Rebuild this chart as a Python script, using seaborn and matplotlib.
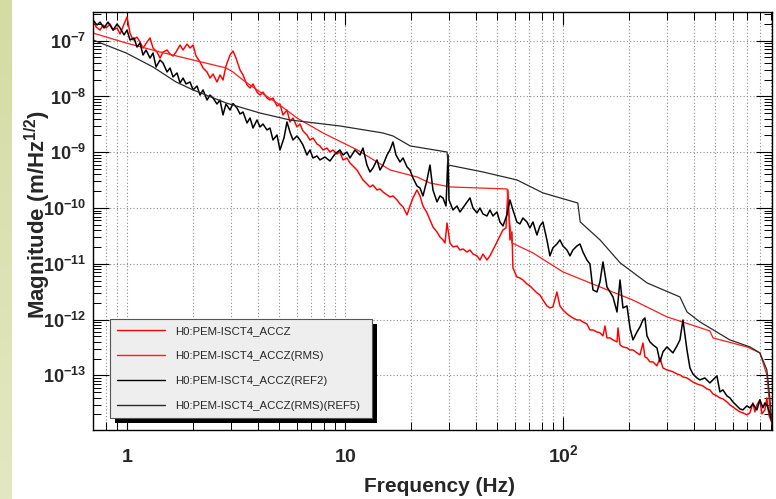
import numpy as np
import pandas as pd
import matplotlib
matplotlib.use("Agg")
import matplotlib.pyplot as plt
import seaborn as sns
from matplotlib.ticker import LogLocator, FuncFormatter, NullFormatter
from matplotlib.patches import Rectangle
from matplotlib.lines import Line2D
from matplotlib.transforms import IdentityTransform

# ---------------- data (frequency in Hz, magnitude in m/Hz^1/2) ----------------
series_names = ["H0:PEM-ISCT4_ACCZ", "H0:PEM-ISCT4_ACCZ(RMS)",
                "H0:PEM-ISCT4_ACCZ(REF2)", "H0:PEM-ISCT4_ACCZ(RMS)(REF5)"]
series_colors = ["#ff0000", "#ff1a1a", "#000000", "#2a2a2a"]

accz = [
    (0.698, 2.35e-7), (0.721, 1.76e-7), (0.752, 1.55e-7), (0.776, 1.91e-7), (0.801, 1.69e-7),
    (0.836, 1.99e-7), (0.863, 1.55e-7), (0.900, 1.69e-7), (0.929, 1.32e-7), (0.969, 1.99e-7),
    (1.000, 2.66e-7), (1.032, 1.37e-7), (1.065, 1.03e-7), (1.111, 1.16e-7), (1.147, 9.47e-8),
    (1.184, 7.39e-8), (1.235, 9.47e-8), (1.275, 1.12e-7), (1.316, 7.39e-8), (1.373, 6.27e-8),
    (1.417, 4.89e-8), (1.463, 6.27e-8), (1.526, 6.81e-8), (1.575, 5.77e-8), (1.626, 5.31e-8),
    (1.678, 6.27e-8), (1.751, 8.37e-8), (1.807, 6.81e-8), (1.885, 8.71e-8), (1.946, 7.39e-8),
    (2.009, 8.37e-8), (2.073, 5.31e-8), (2.162, 4.15e-8), (2.232, 3.24e-8), (2.328, 2.75e-8),
    (2.403, 2.14e-8), (2.480, 2.53e-8), (2.587, 1.82e-8), (2.670, 2.43e-8), (2.756, 1.97e-8),
    (2.845, 3.52e-8), (2.968, 5.54e-8), (3.064, 6.53e-8), (3.162, 4.89e-8), (3.299, 2.98e-8),
    (3.405, 2.43e-8), (3.552, 1.61e-8), (3.667, 1.42e-8), (3.784, 1.68e-8), (3.947, 1.20e-8),
    (4.075, 1.06e-8), (4.205, 1.20e-8), (4.387, 9.39e-9), (4.528, 8.65e-9), (4.673, 9.39e-9),
    (4.875, 6.75e-9), (5.031, 7.33e-9), (5.193, 4.66e-9), (5.418, 5.72e-9), (5.592, 3.49e-9),
    (5.772, 4.12e-9), (6.021, 2.84e-9), (6.215, 3.21e-9), (6.414, 2.41e-9), (6.691, 2.04e-9),
    (6.907, 1.66e-9), (7.129, 1.80e-9), (7.436, 1.41e-9), (7.676, 1.30e-9), (7.923, 1.10e-9),
    (8.264, 1.19e-9), (8.530, 1.01e-9), (8.805, 1.10e-9), (9.185, 9.31e-10), (9.481, 1.01e-9),
    (9.786, 7.29e-10), (10.21, 7.90e-10), (10.54, 6.42e-10), (10.88, 5.68e-10), (11.35, 4.81e-10),
    (11.72, 3.92e-10), (12.09, 3.19e-10), (12.61, 2.70e-10), (13.02, 2.39e-10), (13.44, 2.59e-10),
    (14.02, 2.11e-10), (14.47, 2.20e-10), (14.94, 1.94e-10), (15.59, 1.72e-10), (16.08, 1.58e-10),
    (16.60, 1.65e-10), (17.32, 1.40e-10), (17.88, 1.18e-10), (18.46, 1.05e-10), (19.26, 7.52e-11),
    (19.87, 1.09e-10), (20.51, 1.52e-10), (21.39, 2.11e-10), (22.08, 1.65e-10), (22.79, 1.09e-10),
    (23.78, 8.19e-11), (24.54, 6.11e-11), (25.33, 4.58e-11), (26.42, 3.73e-11), (27.28, 3.03e-11),
    (28.15, 2.68e-11), (28.76, 2.37e-11), (29.38, 5.40e-11), (29.69, 4.05e-11), (30.31, 2.37e-11),
    (31.29, 2.01e-11), (32.64, 2.09e-11), (33.69, 1.77e-11), (34.77, 1.85e-11), (36.27, 1.63e-11),
    (37.44, 1.77e-11), (38.65, 1.50e-11), (40.31, 1.39e-11), (41.61, 1.17e-11), (42.95, 1.50e-11),
    (44.81, 1.17e-11), (46.24, 1.39e-11), (47.73, 1.77e-11), (49.79, 2.47e-11), (51.39, 3.16e-11),
    (53.05, 4.05e-11), (54.76, 4.40e-11), (55.92, 2.11e-10), (57.11, 2.68e-11), (58.33, 3.73e-11),
    (58.95, 8.44e-12), (61.46, 5.81e-12), (63.47, 5.58e-12), (65.52, 5.14e-12), (68.35, 4.36e-12),
    (70.54, 4.02e-12), (72.82, 3.55e-12), (75.96, 3.01e-12), (78.39, 2.77e-12), (80.91, 2.25e-12),
    (84.41, 1.76e-12), (87.12, 1.62e-12), (89.92, 1.69e-12), (93.81, 3.13e-12), (96.83, 1.76e-12),
    (100.0, 1.49e-12), (104.3, 1.27e-12), (107.7, 1.16e-12), (111.1, 1.07e-12), (115.9, 9.86e-13),
    (119.7, 9.86e-13), (123.5, 9.08e-13), (128.8, 8.37e-13), (133.0, 6.53e-13), (137.3, 6.53e-13),
    (143.2, 6.01e-13), (147.8, 5.80e-13), (152.6, 5.10e-13), (155.9, 7.70e-13), (159.2, 4.70e-13),
    (164.3, 4.70e-13), (169.6, 4.33e-13), (177.0, 3.98e-13), (178.8, 7.10e-13), (182.7, 3.52e-13),
    (188.5, 3.24e-13), (196.7, 3.11e-13), (203.0, 2.86e-13), (209.5, 2.86e-13), (218.6, 2.53e-13),
    (225.6, 2.33e-13), (232.8, 3.82e-13), (237.8, 2.14e-13), (242.9, 2.06e-13), (250.7, 1.75e-13),
    (258.7, 1.75e-13), (269.9, 1.48e-13), (278.6, 2.06e-13), (287.6, 1.36e-13), (300.0, 1.25e-13),
    (309.7, 1.21e-13), (319.6, 1.16e-13), (333.4, 1.06e-13), (344.1, 1.02e-13), (355.2, 9.39e-14),
    (370.6, 9.00e-14), (382.5, 8.30e-14), (394.7, 7.62e-14), (411.8, 7.03e-14), (425.1, 6.75e-14),
    (438.7, 6.48e-14), (457.5, 5.72e-14), (472.1, 5.50e-14), (487.5, 4.66e-14), (508.6, 4.29e-14),
    (524.9, 3.95e-14), (541.8, 3.79e-14), (565.2, 3.35e-14), (583.5, 2.96e-14), (602.1, 2.72e-14),
    (628.2, 2.41e-14), (648.4, 2.22e-14), (669.1, 2.13e-14), (698.1, 1.96e-14), (720.6, 2.13e-14),
    (743.6, 3.21e-14), (759.6, 2.22e-14), (775.9, 2.96e-14), (800.9, 3.64e-14), (818.1, 2.04e-14),
    (843.9, 2.41e-14), (861.8, 3.95e-14), (880.3, 1.96e-14), (908.6, 1.41e-14),
]

accz_rms = [
    (0.698, 1.37e-7), (0.99, 9.1e-8), (1.42, 6.27e-8), (2.01, 4.51e-8), (2.85, 3.24e-8),
    (3.06, 2.75e-8), (3.40, 1.98e-8), (3.95, 1.31e-8), (4.88, 7.64e-9), (6.02, 4.12e-9),
    (7.93, 2.22e-9), (11.4, 1.10e-9), (16.1, 4.82e-10), (21.4, 3.61e-10), (24.5, 2.82e-10),
    (30.3, 2.39e-10), (55.4, 2.20e-10), (56.5, 7.52e-11), (58.3, 2.37e-11), (72.8, 1.57e-11),
    (100.0, 7.16e-12), (148.0, 3.85e-12), (209.0, 2.25e-12), (300.0, 1.12e-12), (472.0, 6.27e-13),
    (488.0, 4.70e-13), (698.0, 3.24e-13), (801.0, 2.53e-13), (862.0, 1.02e-13), (891.0, 2.41e-14),
    (910.0, 1.30e-14),
]

accz_ref2 = [
    (0.698, 2.35e-7), (0.728, 1.91e-7), (0.752, 2.16e-7), (0.784, 1.69e-7), (0.818, 2.16e-7),
    (0.863, 1.55e-7), (0.900, 1.99e-7), (0.929, 1.69e-7), (0.969, 1.27e-7), (1.000, 1.55e-7),
    (1.032, 1.03e-7), (1.077, 1.12e-7), (1.111, 7.70e-8), (1.147, 9.08e-8), (1.184, 5.54e-8),
    (1.222, 6.81e-8), (1.275, 4.89e-8), (1.316, 6.01e-8), (1.359, 3.38e-8), (1.417, 4.51e-8),
    (1.463, 3.98e-8), (1.526, 2.75e-8), (1.575, 3.24e-8), (1.626, 2.24e-8), (1.696, 2.64e-8),
    (1.751, 1.75e-8), (1.807, 2.14e-8), (1.865, 1.68e-8), (1.946, 1.82e-8), (2.009, 1.31e-8),
    (2.095, 1.54e-8), (2.162, 1.06e-8), (2.232, 1.31e-8), (2.328, 8.65e-9), (2.403, 1.06e-8),
    (2.480, 9.39e-9), (2.587, 7.33e-9), (2.670, 8.65e-9), (2.756, 4.66e-9), (2.845, 7.33e-9),
    (2.968, 5.72e-9), (3.064, 7.48e-9), (3.196, 6.22e-9), (3.299, 4.85e-9), (3.405, 5.27e-9),
    (3.552, 3.35e-9), (3.667, 4.12e-9), (3.784, 2.72e-9), (3.947, 3.79e-9), (4.075, 2.84e-9),
    (4.205, 3.21e-9), (4.387, 2.51e-9), (4.528, 2.72e-9), (4.673, 1.66e-9), (4.875, 2.04e-9),
    (5.031, 1.10e-9), (5.248, 1.80e-9), (5.418, 3.49e-9), (5.592, 2.31e-9), (5.772, 1.66e-9),
    (6.021, 1.96e-9), (6.215, 1.66e-9), (6.414, 1.35e-9), (6.691, 8.93e-10), (6.907, 1.10e-9),
    (7.129, 7.90e-10), (7.436, 8.59e-10), (7.676, 7.29e-10), (8.091, 8.22e-10), (8.530, 6.97e-10),
    (8.992, 9.31e-10), (9.481, 1.10e-9), (9.786, 8.93e-10), (10.21, 1.01e-9), (10.54, 7.90e-10),
    (11.11, 1.10e-9), (11.72, 8.93e-10), (12.09, 1.19e-9), (12.61, 5.91e-10), (13.02, 4.43e-10),
    (13.44, 5.23e-10), (14.02, 7.29e-10), (14.47, 4.81e-10), (14.94, 5.91e-10), (15.59, 8.93e-10),
    (16.08, 1.10e-9), (16.60, 1.53e-9), (17.14, 8.93e-10), (17.88, 6.70e-10), (18.46, 7.90e-10),
    (19.26, 5.45e-10), (19.87, 4.81e-10), (20.51, 3.46e-10), (21.39, 2.49e-10), (22.08, 2.29e-10),
    (22.79, 1.65e-10), (23.78, 3.19e-10), (24.54, 5.91e-10), (25.33, 2.11e-10), (26.42, 1.29e-10),
    (27.28, 1.65e-10), (28.15, 1.52e-10), (29.07, 1.09e-10), (29.69, 9.0e-10), (30.00, 1.40e-10),
    (31.29, 9.23e-11), (32.64, 1.09e-10), (33.69, 8.51e-11), (35.52, 1.14e-10), (37.44, 1.52e-10),
    (38.65, 1.00e-10), (40.31, 8.19e-11), (41.61, 1.00e-10), (42.95, 7.84e-11), (44.81, 7.21e-11),
    (46.24, 9.23e-11), (47.73, 7.21e-11), (49.79, 8.51e-11), (51.39, 5.63e-11), (53.05, 4.77e-11),
    (55.33, 7.52e-11), (57.11, 1.40e-10), (58.95, 9.23e-11), (61.46, 5.63e-11), (63.47, 5.19e-11),
    (65.52, 6.64e-11), (68.35, 5.63e-11), (70.54, 4.40e-11), (72.82, 5.63e-11), (75.96, 3.29e-11),
    (78.39, 4.77e-11), (80.91, 5.63e-11), (84.41, 2.68e-11), (87.12, 1.39e-11), (89.92, 1.93e-11),
    (93.81, 2.27e-11), (96.83, 2.68e-11), (100.0, 2.09e-11), (104.3, 1.77e-11), (107.7, 1.39e-11),
    (111.1, 1.77e-11), (115.9, 2.09e-11), (119.7, 2.27e-11), (123.5, 1.63e-11), (128.8, 1.17e-11),
    (133.0, 9.96e-12), (137.3, 3.40e-12), (143.2, 3.13e-12), (147.8, 4.74e-12), (152.6, 1.08e-11),
    (155.9, 6.32e-12), (159.2, 3.85e-12), (164.3, 3.13e-12), (169.6, 2.55e-12), (177.0, 1.37e-12),
    (182.7, 5.14e-12), (188.5, 1.62e-12), (196.7, 1.76e-12), (203.0, 7.10e-13), (209.5, 4.33e-13),
    (218.6, 6.01e-13), (225.6, 7.39e-13), (232.8, 9.86e-13), (237.8, 1.07e-12), (242.9, 5.10e-13),
    (250.7, 3.98e-13), (258.7, 3.52e-13), (269.9, 3.11e-13), (278.6, 1.75e-13), (287.6, 2.64e-13),
    (300.0, 3.24e-13), (309.7, 2.86e-13), (319.6, 2.53e-13), (333.4, 3.38e-13), (344.1, 4.33e-13),
    (355.2, 9.86e-13), (370.6, 2.86e-13), (382.5, 1.36e-13), (394.7, 1.06e-13), (411.8, 9.00e-14),
    (425.1, 8.30e-14), (447.7, 9.00e-14), (472.1, 7.33e-14), (487.5, 8.30e-14), (508.6, 9.80e-14),
    (524.9, 5.06e-14), (541.8, 5.50e-14), (565.2, 4.29e-14), (583.5, 3.95e-14), (602.1, 3.35e-14),
    (628.2, 2.84e-14), (648.4, 2.51e-14), (669.1, 2.41e-14), (698.1, 2.84e-14), (720.6, 2.62e-14),
    (743.6, 3.09e-14), (775.9, 2.41e-14), (800.9, 3.64e-14), (826.4, 2.62e-14), (843.9, 3.21e-14),
    (861.8, 2.96e-14), (889.6, 2.13e-14), (908.6, 1.47e-14),
]

accz_rms_ref5 = [
    (0.698, 1.03e-7), (0.99, 6.03e-8), (1.316, 3.38e-8), (1.678, 1.82e-8), (2.01, 1.31e-8),
    (2.85, 7.64e-9), (4.07, 5.06e-9), (5.59, 3.79e-9), (9.49, 2.96e-9), (14.9, 2.22e-9),
    (16.6, 1.96e-9), (19.9, 1.30e-9), (29.4, 1.01e-9), (29.7, 5.92e-10), (42.9, 4.44e-10),
    (61.5, 3.19e-10), (80.9, 1.87e-10), (117.0, 1.23e-10), (120.0, 5.64e-11), (148.0, 2.68e-11),
    (183.0, 1.04e-11), (243.0, 4.55e-12), (344.0, 2.55e-12), (371.0, 1.37e-12), (425.0, 9.1e-13),
    (583.0, 4.33e-13), (721.0, 3.24e-13), (801.0, 2.53e-13), (862.0, 1.26e-13), (891.0, 3.64e-14),
    (910.0, 1.30e-14),
]

x_range = (0.698, 910.0)
y_range = (1.05e-14, 3.27e-7)

# ---------------- build long-form table ----------------
frames = []
for name, pts in zip(series_names, [accz, accz_rms, accz_ref2, accz_rms_ref5]):
    f, m = zip(*pts)
    frames.append(pd.DataFrame({"freq": f, "mag": m, "series": name}))
df = pd.concat(frames, ignore_index=True)

# ---------------- style ----------------
sns.set_style("white")
plt.rcParams["font.family"] = ["Liberation Sans", "DejaVu Sans"]
plt.rcParams["mathtext.fontset"] = "custom"
plt.rcParams["mathtext.rm"] = "Liberation Sans:bold"
plt.rcParams["mathtext.bf"] = "Liberation Sans:bold"
plt.rcParams["mathtext.it"] = "Liberation Sans:bold:italic"
plt.rcParams["mathtext.sf"] = "Liberation Sans:bold"
plt.rcParams["mathtext.default"] = "bf"

fig = plt.figure(figsize=(7.76, 4.99), dpi=100)
fig.patch.set_facecolor("white")

# left decorative strip of the slide
strip = fig.add_axes([0, 0, 12 / 776, 1])
grad = np.linspace(0, 1, 256).reshape(-1, 1)
top_c = np.array([212, 219, 163]) / 255
bot_c = np.array([228, 232, 194]) / 255
img = top_c[None, None, :] * (1 - grad[:, :, None]) + bot_c[None, None, :] * grad[:, :, None]
strip.imshow(img, aspect="auto")
strip.set_axis_off()

ax = fig.add_axes([93 / 776, 1 - 430 / 499, (772 - 93) / 776, (430 - 12) / 499])
ax.set_xscale("log")
ax.set_yscale("log")

palette = dict(zip(series_names, series_colors))
sns.lineplot(data=df, x="freq", y="mag", hue="series", hue_order=series_names,
             palette=palette, estimator=None, sort=False, legend=False, ax=ax, lw=1.0)
widths = [1.05, 0.9, 1.1, 0.9]
for ln, w in zip(ax.lines, widths):
    ln.set_linewidth(w)

ax.set_xlim(*x_range)
ax.set_ylim(*y_range)

# ticks
ax.xaxis.set_major_locator(LogLocator(base=10, numticks=12))
ax.xaxis.set_minor_locator(LogLocator(base=10, subs=np.arange(2, 10), numticks=40))
ax.yaxis.set_major_locator(LogLocator(base=10, numticks=20))
ax.yaxis.set_minor_locator(LogLocator(base=10, subs=np.arange(2, 10), numticks=100))


def xfmt(v, pos):
    e = int(round(np.log10(v)))
    if e == 0:
        return r"$\mathbf{1}$"
    if e == 1:
        return r"$\mathbf{10}$"
    return r"$\mathbf{10^{%d}}$" % e


def yfmt(v, pos):
    e = int(round(np.log10(v)))
    return r"$\mathbf{10^{%d}}$" % e


ax.xaxis.set_major_formatter(FuncFormatter(xfmt))
ax.yaxis.set_major_formatter(FuncFormatter(yfmt))
ax.xaxis.set_minor_formatter(NullFormatter())
ax.yaxis.set_minor_formatter(NullFormatter())

ax.tick_params(axis="x", which="major", direction="in", top=True, bottom=True,
               length=9.5, width=0.8, labelsize=14, pad=23, color="black")
ax.tick_params(axis="x", which="minor", direction="in", top=True, bottom=True,
               length=5.8, width=0.7, color="black")
ax.tick_params(axis="y", which="major", direction="in", left=True, right=True,
               length=11.5, width=0.8, labelsize=13, pad=5, color="black")
ax.tick_params(axis="y", which="minor", direction="in", left=True, right=True,
               length=5.8, width=0.7, color="black")

# grid (ROOT-like dotted)
ax.grid(True, which="major", axis="both", linestyle=(0, (1, 2)), color="#8c8c8c", lw=0.8)
ax.grid(True, which="minor", axis="x", linestyle=(0, (1, 2)), color="#8c8c8c", lw=0.8)
ax.set_axisbelow(True)

for sp in ax.spines.values():
    sp.set_color("black")
    sp.set_linewidth(1.0)
    sp.set_visible(True)

ax.set_xlabel("Frequency (Hz)", fontsize=15, fontweight="bold")
ax.xaxis.set_label_coords(0.511, -0.112)
ax.set_ylabel(r"$\mathbf{Magnitude\ (m/Hz^{1/2})}$", fontsize=16)
ax.yaxis.set_label_coords(-0.059, 0.515)

# legend
handles = [Line2D([0], [0], color=c, lw=1.0) for c in series_colors]
leg = ax.legend(handles, series_names, loc="lower left",
                bbox_to_anchor=(0.025, 0.0287, 0.386, 0.244), mode="expand",
                borderaxespad=0, fontsize=8.2, frameon=True, fancybox=False,
                handlelength=4.2, handletextpad=0.9, labelspacing=1.3, borderpad=0.64,
                framealpha=1)
leg.get_frame().set_facecolor("#eeeeee")
leg.get_frame().set_edgecolor("#555555")
leg.get_frame().set_linewidth(0.8)

fig.canvas.draw()
# x tick labels share a common baseline (as in the reference: 1, 10, 10^2)
for t in ax.xaxis.get_major_ticks():
    t.label1.set_verticalalignment("baseline")
fig.canvas.draw()

bb = leg.get_window_extent()
shadow = Rectangle((bb.x0 + 5, bb.y0 - 5), bb.width, bb.height, transform=IdentityTransform(),
                   facecolor="black", edgecolor="none", zorder=leg.get_zorder() - 0.1,
                   clip_on=False)
ax.add_artist(shadow)

fig.savefig("out.png", dpi=100)
